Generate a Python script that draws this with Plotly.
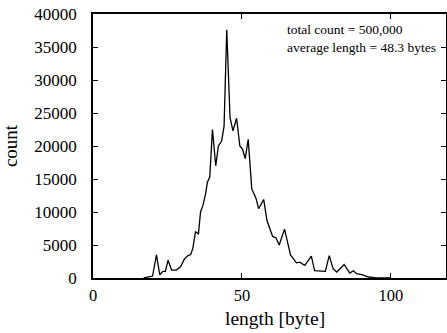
import plotly.graph_objects as go

# length [byte] and count
length = [17.0, 18.5, 20.0, 21.3, 22.4, 23.5, 24.3, 25.2, 26.4, 27.9, 29.4, 30.7,
          31.9, 32.8, 33.5, 34.4, 35.4, 36.1, 36.9, 37.8, 38.4, 39.2, 40.1, 41.2,
          42.1, 43.2, 44.0, 44.9, 46.0, 47.0, 48.2, 49.3, 50.2, 51.1, 52.1, 53.3,
          54.7, 55.6, 57.3, 58.4, 60.3, 61.4, 62.5, 64.3, 66.3, 68.3, 69.4, 71.1,
          73.3, 74.4, 78.0, 79.3, 80.6, 81.8, 84.3, 86.2, 87.4, 88.5, 90.2, 92.5,
          95.0, 100.0]
count = [0, 150, 300, 3500, 500, 1000, 1000, 2700, 1200, 1200, 1700, 2900,
         3400, 3550, 4450, 7000, 6700, 10000, 11000, 12750, 14500, 15300, 22500, 17000,
         20000, 20800, 23000, 37600, 24300, 22300, 24200, 20000, 19500, 18100, 21000, 13500,
         12100, 10500, 11900, 8700, 6300, 6100, 5000, 7400, 3500, 2300, 2400, 1900,
         3300, 1100, 1000, 3400, 1400, 900, 2050, 750, 1100, 650, 500, 150,
         30, 0]

y_ticks = [0, 5000, 10000, 15000, 20000, 25000, 30000, 35000, 40000]
y_labels = [str(v) for v in y_ticks]
x_ticks = [0, 50, 100]
x_labels = ["0", "50", "100"]
notes = ["total count = 500,000", "average length = 48.3 bytes"]
x_title = "length [byte]"
y_title = "count"

FONT = "Liberation Serif"

fig = go.Figure()
fig.add_trace(go.Scatter(x=length, y=count, mode="lines",
                         line=dict(color="black", width=1.3), showlegend=False))

for i, t in enumerate(notes):
    fig.add_annotation(x=0.544, y=0.943 - i * 0.068, xref="paper", yref="paper",
                       text=t, showarrow=False, xanchor="left", yanchor="middle",
                       font=dict(family=FONT, size=13.5, color="black"))

fig.add_annotation(x=0.516, y=-0.155, xref="paper", yref="paper", text=x_title,
                   showarrow=False, xanchor="center", yanchor="middle",
                   font=dict(family=FONT, size=19.5, color="black"))

fig.update_layout(
    width=447, height=333,
    margin=dict(l=93, r=1, t=14, b=55),
    paper_bgcolor="white", plot_bgcolor="white",
    font=dict(family=FONT, color="black"),
)
fig.update_xaxes(range=[0, 118.5], tickvals=x_ticks, ticktext=x_labels,
                 ticks="inside", ticklen=5, automargin=False,
                 tickcolor="black", showline=True, linecolor="black", linewidth=1.6,
                 mirror="ticks", showgrid=False, zeroline=False,
                 tickfont=dict(family=FONT, size=16.5), ticklabelstandoff=1)
fig.update_yaxes(range=[0, 40000], tickvals=y_ticks, ticktext=y_labels,
                 ticks="inside", ticklen=5, automargin=False,
                 tickcolor="black", showline=True, linecolor="black", linewidth=1.6,
                 mirror="ticks", showgrid=False, zeroline=False,
                 tickfont=dict(family=FONT, size=17), ticklabelstandoff=11,
                 ticklabeloverflow="allow",
                 title=dict(text=y_title, font=dict(family=FONT, size=19), standoff=12))

fig.write_html(
    "out.html",
    config={"displayModeBar": False},
    post_script="document.body.style.margin='0';document.body.style.overflow='hidden';",
)
